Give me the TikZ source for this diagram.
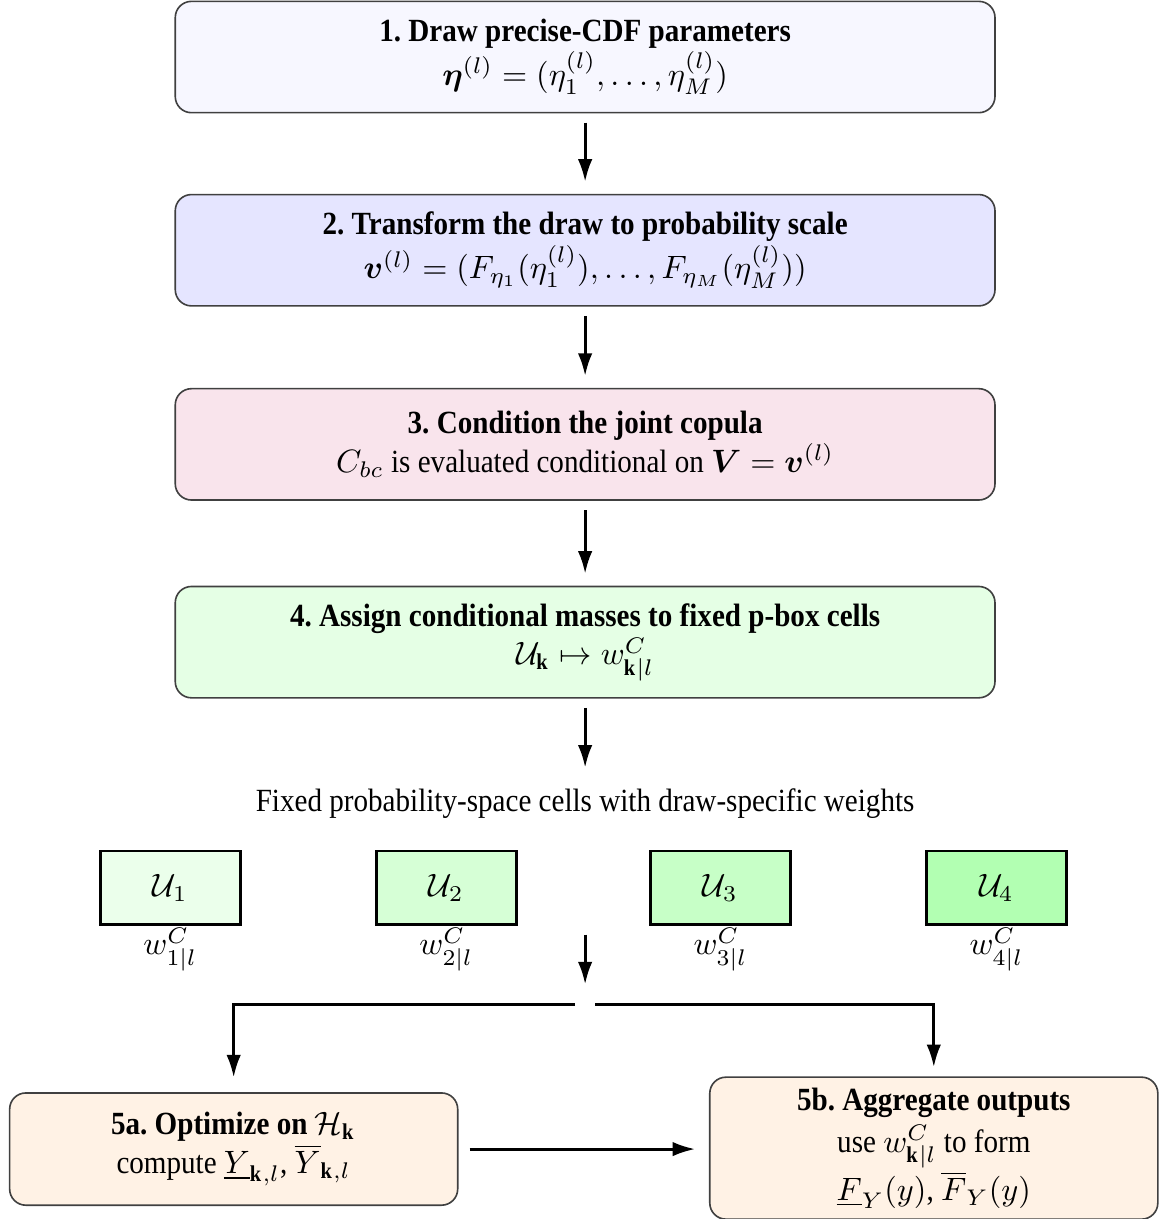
\documentclass[tikz,border=0pt]{standalone}
\usepackage{amsmath}
\usepackage{fontspec}
\setmainfont{Liberation Serif}[FakeStretch=0.9]
\usetikzlibrary{arrows.meta}
\definecolor{copulapink}{RGB}{249,228,236}
\frenchspacing

\begin{document}
\begin{tikzpicture}[
	stagebox/.style={draw=black!75, line width=0.5pt, rounded corners=5pt, align=center, minimum width=8.91cm, minimum height=1.21cm},
	outbox/.style={draw=black!75, line width=0.5pt, rounded corners=5pt, align=center, minimum width=4.87cm},
	cellbox/.style={draw=black, line width=0.9pt, minimum width=1.52cm, minimum height=0.8cm},
	weight/.style={inner sep=0.5pt},
	flow/.style={line width=0.9pt, -{Latex[length=7pt,width=4.5pt]}},
	]
	\useasboundingbox (0,0) rectangle (12.587,13.25);
	\node [stagebox, fill=blue!3] (s1) at (6.36,12.63) {\textbf{1. Draw precise-CDF parameters}\\$\boldsymbol{\eta}^{(l)} = (\eta_1^{(l)}, \ldots, \eta_M^{(l)})$};
	\node [stagebox, fill=blue!10] (s2) at (6.36,10.53) {\textbf{2. Transform the draw to probability scale}\\$\boldsymbol{v}^{(l)} = (F_{\eta_1}(\eta_1^{(l)}), \ldots, F_{\eta_M}(\eta_M^{(l)}))$};
	\node [stagebox, fill=copulapink] (s3) at (6.36,8.42) {\textbf{3. Condition the joint copula}\\$C_{bc}$ is evaluated conditional on $\boldsymbol{V} = \boldsymbol{v}^{(l)}$};
	\node [stagebox, fill=green!10] (s4) at (6.36,6.27) {\textbf{4. Assign conditional masses to fixed p-box cells}\\$\mathcal{U}_{\mathbf{k}} \mapsto w^{C}_{\mathbf{k}|l}$};
	\node (cells) at (6.36,4.52) {Fixed probability-space cells with draw-specific weights};
	\node [cellbox, fill=green!8] (u1) at (1.85,3.6) {$\mathcal{U}_1$};
	\node [cellbox, fill=green!16] (u2) at (4.85,3.6) {$\mathcal{U}_2$};
	\node [cellbox, fill=green!22] (u3) at (7.83,3.6) {$\mathcal{U}_3$};
	\node [cellbox, fill=green!30] (u4) at (10.83,3.6) {$\mathcal{U}_4$};
	\node [weight] (w1) at (1.85,2.93) {$w^{C}_{1|l}$};
	\node [weight] (w2) at (4.85,2.93) {$w^{C}_{2|l}$};
	\node [weight] (w3) at (7.83,2.93) {$w^{C}_{3|l}$};
	\node [weight] (w4) at (10.83,2.93) {$w^{C}_{4|l}$};
	\node [outbox, fill=orange!10, minimum height=1.22cm] (opt) at (2.54,0.76) {\textbf{5a. Optimize on $\mathcal{H}_{\mathbf{k}}$}\\compute $\underline{Y}_{\mathbf{k},l}$, $\overline{Y}_{\mathbf{k},l}$};
	\node [outbox, fill=orange!10, minimum height=1.53cm] (agg) at (10.15,0.77) {\textbf{5b. Aggregate outputs}\\[1pt]use $w^{C}_{\mathbf{k}|l}$ to form\\$\underline{F}_Y(y)$, $\overline{F}_Y(y)$};
	\coordinate (fork) at (6.36,3.09);
	\coordinate (forkend) at (6.36,2.55);
	\coordinate (splitL) at (6.25,2.33);
	\coordinate (splitR) at (6.47,2.33);
	\draw [flow, shorten <=0.1cm, shorten >=0.13cm] (s1) -- (s2);
	\draw [flow, shorten <=0.1cm, shorten >=0.13cm] (s2) -- (s3);
	\draw [flow, shorten <=0.1cm, shorten >=0.13cm] (s3) -- (s4);
	\draw [flow, shorten <=0.1cm, shorten >=0.1cm] (s4) -- (cells);
	\draw [flow] (fork) -- (forkend);
	\draw [flow, shorten >=0.16cm] (splitL) -| (opt);
	\draw [flow, shorten >=0.1cm] (splitR) -| (agg);
	\draw [flow, shorten <=0.12cm, shorten >=0.15cm] (opt) -- (opt -| agg.west);
\end{tikzpicture}
\end{document}
